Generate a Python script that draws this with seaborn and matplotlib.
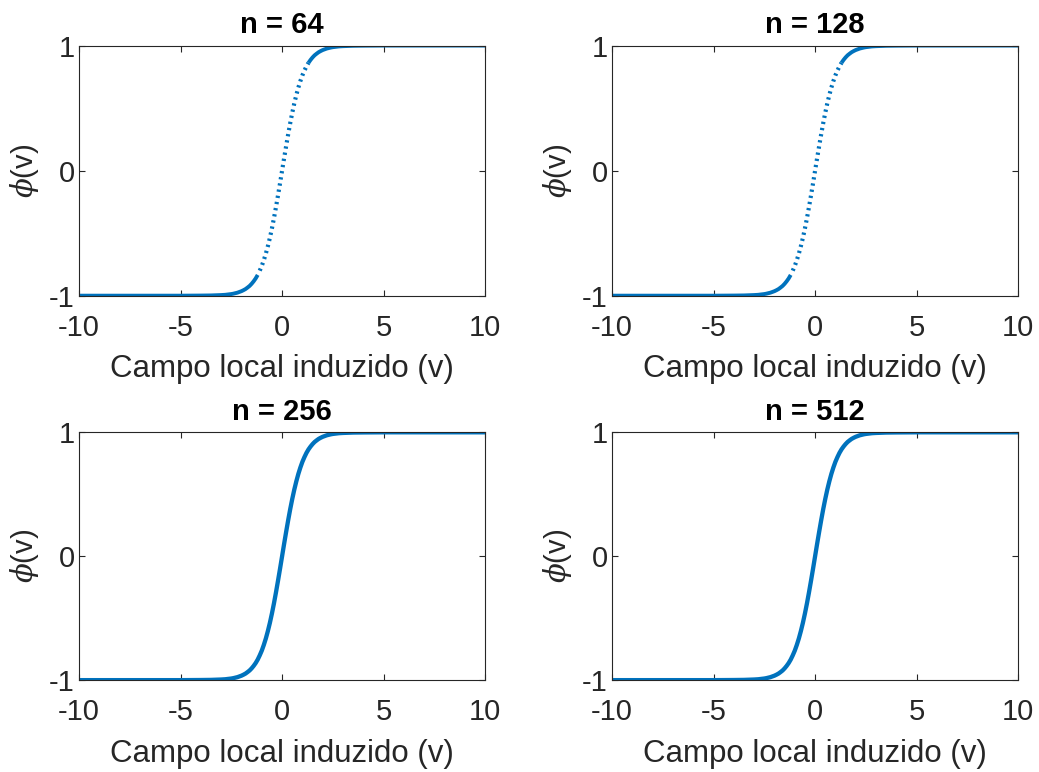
import matplotlib
matplotlib.use("Agg")
import matplotlib.pyplot as plt
import numpy as np
import pandas as pd
import seaborn as sns

sns.set_theme(style="white")
plt.rcParams["font.family"] = ["Liberation Sans", "DejaVu Sans"]
plt.rcParams["mathtext.fontset"] = "custom"
plt.rcParams["mathtext.it"] = "DejaVu Serif:italic"

# panel titles
sizes = [64, 128, 256, 512]

v_mid = np.round(np.linspace(-3.0, 3.0, 61), 2)
phi_mid = [
    -0.995, -0.994, -0.993, -0.991, -0.989, -0.987, -0.984, -0.980, -0.976, -0.970,
    -0.964, -0.956, -0.947, -0.935, -0.922, -0.905, -0.885, -0.862, -0.834, -0.800,
    -0.762, -0.716, -0.664, -0.604, -0.537, -0.462, -0.380, -0.291, -0.197, -0.100,
    0.000,
    0.100, 0.197, 0.291, 0.380, 0.462, 0.537, 0.604, 0.664, 0.716, 0.762,
    0.800, 0.834, 0.862, 0.885, 0.905, 0.922, 0.935, 0.947, 0.956, 0.964,
    0.970, 0.976, 0.980, 0.984, 0.987, 0.989, 0.991, 0.993, 0.994, 0.995,
]
# flat tails
v_left = [-10.0, -8.0, -6.0, -5.0, -4.0, -3.5]
phi_left = [-1.0, -1.0, -1.0, -1.0, -0.999, -0.998]
v_right = [3.5, 4.0, 5.0, 6.0, 8.0, 10.0]
phi_right = [0.998, 0.999, 1.0, 1.0, 1.0, 1.0]

curve = pd.DataFrame({
    "v": list(v_left) + list(v_mid) + list(v_right),
    "phi": phi_left + phi_mid + phi_right,
})

blue = "#0072BD"
text_grey = "#262626"

fig = plt.figure(figsize=(10.39, 7.72), dpi=100)
boxes = [
    (0.076, 0.617, 0.391, 0.324),
    (0.589, 0.617, 0.391, 0.324),
    (0.076, 0.119, 0.391, 0.321),
    (0.589, 0.119, 0.391, 0.321),
]

for n, box in zip(sizes, boxes):
    ax = fig.add_axes(box)
    if n <= 128:
        # coarse sampling: the steep part shows separate dots
        outer_l = curve[curve["v"] <= -1.15]
        inner = curve[(curve["v"] >= -1.15) & (curve["v"] <= 1.3)]
        outer_r = curve[curve["v"] >= 1.3]
        for part in (outer_l, outer_r):
            sns.lineplot(data=part, x="v", y="phi", ax=ax, color=blue,
                         linewidth=2.8, solid_capstyle="butt")
        sns.lineplot(data=inner, x="v", y="phi", ax=ax, color=blue,
                     linewidth=3.0, linestyle=(0, (0.55, 0.95)),
                     dash_capstyle="butt")
    else:
        sns.lineplot(data=curve, x="v", y="phi", ax=ax, color=blue,
                     linewidth=3.1)

    ax.set_xlim(-10, 10)
    ax.set_ylim(-1, 1)
    ax.set_xticks([-10, -5, 0, 5, 10])
    ax.set_xticklabels(["-10", "-5", "0", "5", "10"])
    ax.set_yticks([-1, 0, 1])
    ax.set_yticklabels(["-1", "0", "1"])
    ax.tick_params(direction="in", length=4, width=0.8, colors=text_grey,
                   labelsize=21, top=True, right=True, bottom=True, left=True)
    ax.tick_params(axis="x", pad=13)
    ax.tick_params(axis="y", pad=3)
    for sp in ax.spines.values():
        sp.set_color(text_grey)
        sp.set_linewidth(0.8)
    ax.set_xlabel("Campo local induzido (v)", fontsize=22.5, color=text_grey,
                  labelpad=9)
    ax.set_ylabel(r"$\phi$(v)", fontsize=21, color=text_grey, labelpad=6)
    ax.set_title(f"n = {n}", fontsize=21, fontweight="bold", color="black",
                 pad=9)
    ax.grid(False)

fig.savefig("out.png", dpi=100)
plt.close(fig)
